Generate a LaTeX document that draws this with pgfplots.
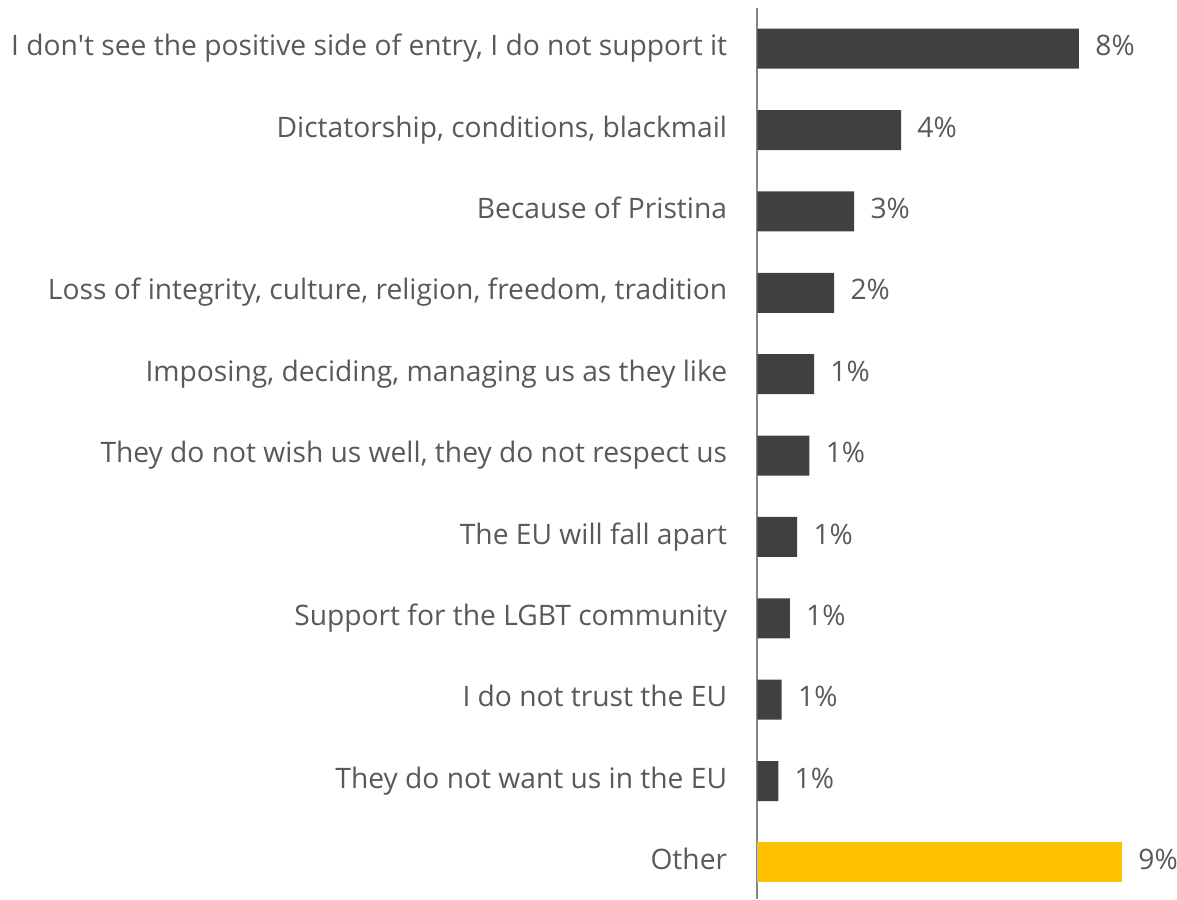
\documentclass[border=0pt]{standalone}
\usepackage{pgfplots}
\pgfplotsset{compat=1.18}
\usepackage{pgfplotstable}
\usepackage{fontspec}
\setmainfont{Open Sans}
\definecolor{txt}{HTML}{595959}
\definecolor{barc}{HTML}{404040}
\definecolor{gold}{HTML}{FFC000}
\definecolor{axc}{HTML}{868686}

\pgfplotstableread{
y x r
0 8.35 8
1 3.73 4
2 2.51 3
3 1.99 2
4 1.47 1
5 1.35 1
6 1.03 1
7 0.84 1
8 0.63 1
9 0.54 1
}\maindata
\pgfplotstableread{
y x r
10 9.47 9
}\otherdata

\newcommand{\lblfont}{\fontsize{14.1}{17}\selectfont}

\begin{document}
\begin{tikzpicture}
\path[use as bounding box] (-378.75pt,0pt) rectangle (209.75pt,449.5pt);
\begin{axis}[
  at={(0pt,0pt)}, anchor=south west,
  scale only axis, width=192.5pt, height=445.5pt,
  xmin=0, xmax=10, ymin=-0.5, ymax=10.45,
  y dir=reverse,
  axis x line=none, axis y line*=left,
  y axis line style={draw=axc, line width=1pt},
  ytick={0,...,10},
  yticklabels={
    {I don\textquotesingle t see the positive side of entry, I do not support it},
    {Dictatorship, conditions, blackmail},
    {Because of Pristina},
    {Loss of integrity, culture, religion, freedom, tradition},
    {Imposing, deciding, managing us as they like},
    {They do not wish us well, they do not respect us},
    {The EU will fall apart},
    {Support for the LGBT community},
    {I do not trust the EU},
    {They do not want us in the EU},
    {Other}},
  major tick length=0pt,
  yticklabel style={font=\lblfont, text=txt, inner sep=0pt, xshift=-15pt,
    anchor=east, text height=0.71em, text depth=0pt},
  xbar, bar width=20pt, bar shift=0pt,
  clip=false,
  point meta=explicit symbolic,
  nodes near coords={\pgfplotspointmeta\%},
  every node near coord/.append style={font=\lblfont, text=txt, anchor=west,
    inner sep=0pt, xshift=8pt, text height=0.71em, text depth=0pt},
]
\addplot[fill=barc, draw=none] table[x=x, y=y, meta=r]{\maindata};
\addplot[fill=gold, draw=none] table[x=x, y=y, meta=r]{\otherdata};
\end{axis}
\end{tikzpicture}
\end{document}
